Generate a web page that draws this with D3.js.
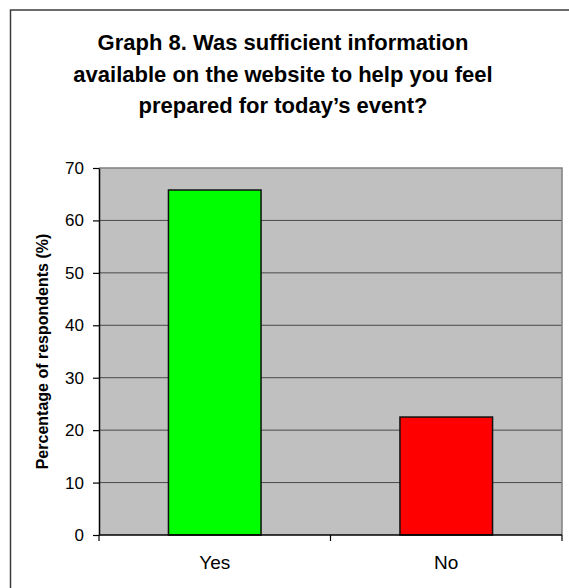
<!DOCTYPE html>
<meta charset="utf-8">
<style>
  body { margin: 0; background: #fff; }
  svg { display: block; font-family: "Liberation Sans", Arial, sans-serif; }
</style>
<body>
<div id="chart"></div>
<script src="https://d3js.org/d3.v7.min.js"></script>
<script>
  const categories = ["Yes", "No"];
  const values = [65.8, 22.5];
  const barColors = ["#00ff00", "#ff0000"];
  const yTicks = [0, 10, 20, 30, 40, 50, 60, 70];
  const titleLines = ["Graph 8. Was sufficient information",
                      "available on the website to help you feel",
                      "prepared for today\u2019s event?"];
  const yLabel = "Percentage of respondents (%)";

  const width = 569, height = 588;
  const plot = { left: 99, right: 562, top: 168, bottom: 535 };

  const svg = d3.select("#chart").append("svg")
    .attr("width", width)
    .attr("height", height);

  // outer chart frame (runs past the picture edge)
  svg.append("rect")
    .attr("x", 10.5).attr("y", 10)
    .attr("width", 620).attr("height", 620)
    .attr("fill", "#fff")
    .attr("stroke", "#3c3c3c")
    .attr("stroke-width", 1.5);

  svg.append("text")
    .attr("x", 283)
    .attr("y", 50)
    .attr("text-anchor", "middle")
    .attr("font-size", 22)
    .attr("font-weight", "bold")
    .selectAll("tspan")
    .data(titleLines)
    .join("tspan")
    .attr("x", 283)
    .attr("dy", (d, i) => i === 0 ? 0 : 31.5)
    .text(d => d);

  const x = d3.scaleBand()
    .domain(categories)
    .range([plot.left, plot.right])
    .paddingInner(0.6)
    .paddingOuter(0.3);

  const y = d3.scaleLinear()
    .domain([0, 70])
    .range([plot.bottom, plot.top]);

  // plot area
  svg.append("rect")
    .attr("x", plot.left).attr("y", plot.top)
    .attr("width", plot.right - plot.left)
    .attr("height", plot.bottom - plot.top)
    .attr("fill", "#c0c0c0");

  // gridlines
  svg.append("g")
    .selectAll("line")
    .data(yTicks.filter(d => d > 0 && d < 70))
    .join("line")
    .attr("x1", plot.left).attr("x2", plot.right)
    .attr("y1", d => y(d)).attr("y2", d => y(d))
    .attr("stroke", "#4a4a4a")
    .attr("stroke-width", 1);

  // plot-area border, top and right
  svg.append("path")
    .attr("d", `M${plot.left},${plot.top}H${plot.right}V${plot.bottom}`)
    .attr("fill", "none")
    .attr("stroke", "#808080")
    .attr("stroke-width", 1.5);

  svg.append("g")
    .selectAll("rect")
    .data(values)
    .join("rect")
    .attr("x", (d, i) => x(categories[i]))
    .attr("y", d => y(d))
    .attr("width", x.bandwidth())
    .attr("height", d => y(0) - y(d))
    .attr("fill", (d, i) => barColors[i])
    .attr("stroke", "#111")
    .attr("stroke-width", 1.5);

  // y axis
  const yAxis = svg.append("g")
    .attr("transform", `translate(${plot.left},0)`)
    .call(d3.axisLeft(y).tickValues(yTicks).tickSize(6).tickPadding(9).tickSizeOuter(0));
  yAxis.select(".domain").attr("stroke", "#000").attr("stroke-width", 1.5);
  yAxis.selectAll(".tick line").attr("stroke", "#000").attr("stroke-width", 1.2);
  yAxis.selectAll(".tick text")
    .attr("font-size", 17)
    .attr("font-family", "Liberation Sans, Arial, sans-serif")
    .attr("fill", "#000");

  // x axis: ticks sit on the category boundaries
  const xAxis = svg.append("g")
    .attr("transform", `translate(0,${plot.bottom})`);
  xAxis.append("line")
    .attr("x1", plot.left).attr("x2", plot.right)
    .attr("stroke", "#000").attr("stroke-width", 1.5);
  const bounds = [plot.left, plot.left + (plot.right - plot.left) / 2, plot.right];
  xAxis.selectAll(".xt")
    .data(bounds)
    .join("line")
    .attr("x1", d => d).attr("x2", d => d)
    .attr("y1", 0).attr("y2", 6)
    .attr("stroke", "#000").attr("stroke-width", 1.2);
  xAxis.selectAll("text")
    .data(categories)
    .join("text")
    .attr("x", d => x(d) + x.bandwidth() / 2)
    .attr("y", 34)
    .attr("text-anchor", "middle")
    .attr("font-size", 19)
    .text(d => d);

  svg.append("text")
    .attr("transform", `translate(48,${(plot.top + plot.bottom) / 2}) rotate(-90)`)
    .attr("text-anchor", "middle")
    .attr("font-size", 16)
    .attr("font-weight", "bold")
    .text(yLabel);
</script>
</body>
